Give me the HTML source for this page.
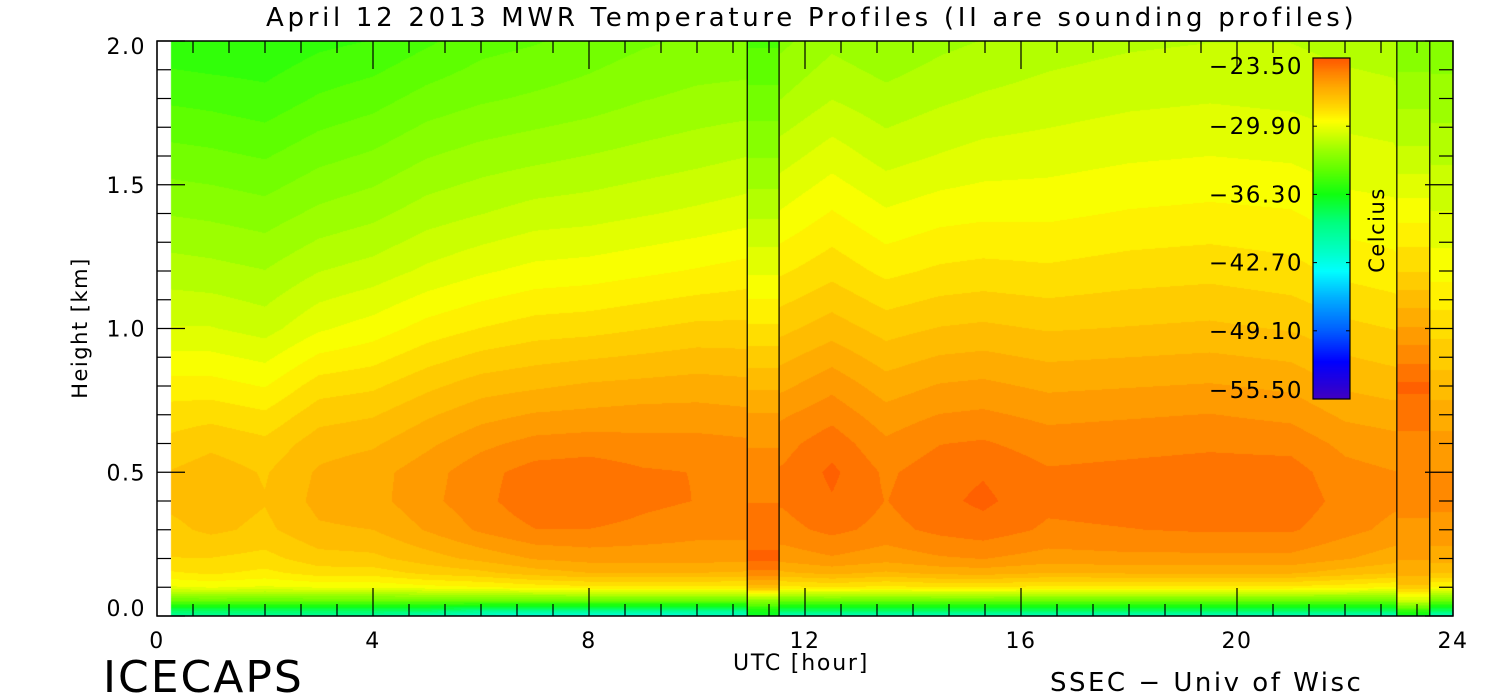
<!DOCTYPE html>
<html><head><meta charset="utf-8"><style>
html,body{margin:0;padding:0;background:#fff;}
#wrap{position:relative;width:1500px;height:700px;overflow:hidden;font-family:"DejaVu Sans","Liberation Sans",sans-serif;}
.t{position:absolute;white-space:nowrap;color:#000;font-weight:normal;}
canvas{position:absolute;left:0;top:0;}
svg{position:absolute;left:0;top:0;}
</style></head><body>
<div id="wrap">
<canvas id="cv" width="1500" height="700"></canvas>
<svg id="sv" width="1500" height="700"></svg>
<div class="t" style="left:266px;top:3px;font-size:26px;letter-spacing:3.7px;">April 12 2013 MWR Temperature Profiles (II are sounding profiles)</div>
<div class="t" style="top:328px;font-size:21px;letter-spacing:1.5px;transform:translate(-50%,-50%) rotate(-90deg);transform-origin:center;left:80px;">Height [km]</div>
<div class="t" style="left:733px;top:651px;font-size:22px;letter-spacing:1.8px;">UTC [hour]</div>
<div class="t" style="left:103px;top:652px;font-size:44px;letter-spacing:2px;">ICECAPS</div>
<div class="t" style="left:1050px;top:668px;font-size:26px;letter-spacing:2.5px;">SSEC − Univ of Wisc</div>
<div class="t" style="left:1377px;top:230px;font-size:21px;letter-spacing:1.5px;transform:translate(-50%,-50%) rotate(-90deg);">Celcius</div>
</div>
<script>
// ---- data ----
const heights = [0,0.02,0.05,0.1,0.15,0.2,0.3,0.4,0.5,0.6,0.7,0.8,1.0,1.2,1.4,1.6,1.8,2.0];
const mwrTimes = [0.26,1,2,3,4,5,6,7,8,9,10,10.9,11.6,12.5,13.5,14.5,15.3,16.5,18,19.5,21,22,22.9,23.6,24];
const mwrTemps = [
[-40,-38,-34,-30,-28.7,-28,-27.5,-27.2,-27.3,-27.8,-28.3,-29,-30.5,-31.5,-32.5,-33.5,-34.5,-35.5],
[-40,-38,-34,-29.8,-28.5,-28,-27.2,-27,-27,-27.5,-28.2,-29,-30.5,-31.6,-32.6,-33.6,-34.6,-35.6],
[-40,-38,-34,-30,-28.8,-28.2,-27.5,-27.3,-27.4,-27.8,-28.5,-29.3,-30.8,-31.8,-32.8,-33.8,-34.8,-35.6],
[-40,-38,-34,-29.8,-28.3,-27.6,-26.8,-26.5,-26.6,-27,-27.6,-28.3,-30,-31.2,-32.3,-33.3,-34.3,-35.2],
[-40,-38,-34,-29.8,-28.3,-27.5,-26.7,-26.3,-26.3,-26.8,-27.4,-28.1,-29.6,-30.9,-32,-33,-34,-35],
[-41,-38,-34,-29.5,-27.8,-27,-26,-25.6,-25.7,-26.2,-26.8,-27.5,-29,-30.4,-31.5,-32.5,-33.5,-34.5],
[-42,-39,-34,-29.3,-27.5,-26.5,-25.3,-25,-25,-25.6,-26.3,-27,-28.6,-30,-31.2,-32.2,-33.2,-34],
[-43,-39,-34,-29,-27,-26,-24.8,-24.3,-24.5,-25.2,-26,-26.8,-28.3,-29.7,-30.9,-32,-33,-33.8],
[-43,-39,-34,-28.8,-26.7,-25.8,-24.8,-24.2,-24.4,-25.1,-25.9,-26.6,-28.2,-29.6,-30.8,-31.8,-32.8,-33.5],
[-43,-39,-34,-28.8,-26.7,-25.8,-25,-24.6,-24.7,-25.2,-25.8,-26.5,-28,-29.4,-30.6,-31.6,-32.5,-33.2],
[-42,-39,-34,-28.8,-26.7,-25.8,-25.2,-24.8,-24.8,-25.2,-25.8,-26.4,-27.8,-29.2,-30.4,-31.4,-32.3,-33],
[-42,-39,-34,-28.8,-26.8,-25.8,-25.2,-24.8,-24.8,-25.3,-25.9,-26.5,-27.8,-29,-30.2,-31.2,-32.2,-33],
[-41,-38,-34,-28.8,-26.8,-25.8,-25,-24.7,-24.7,-25,-25.5,-26.2,-27.5,-28.7,-29.8,-30.8,-31.8,-32.6],
[-41,-38,-34,-28.6,-26.5,-25.5,-24.6,-24.2,-24,-24.4,-25,-25.6,-27,-28.2,-29.2,-30.2,-31.2,-32],
[-41,-38,-34,-28.8,-26.8,-25.8,-25,-24.8,-24.9,-25.3,-25.8,-26.4,-27.6,-28.8,-29.8,-30.8,-31.6,-32.4],
[-41,-38,-34,-28.6,-26.5,-25.5,-24.6,-24.3,-24.4,-24.8,-25.4,-26,-27.3,-28.5,-29.5,-30.5,-31.3,-32],
[-41,-38,-34,-28.6,-26.4,-25.4,-24.4,-24,-24.2,-24.7,-25.3,-25.9,-27.2,-28.4,-29.4,-30.3,-31.1,-31.8],
[-41,-38,-34,-28.8,-26.7,-25.7,-24.9,-24.6,-24.7,-25.1,-25.6,-26.2,-27.4,-28.5,-29.4,-30.2,-30.9,-31.5],
[-41,-38,-34,-28.8,-26.6,-25.6,-24.8,-24.5,-24.6,-25,-25.5,-26.1,-27.3,-28.3,-29.2,-30,-30.7,-31.3],
[-41,-38,-34,-28.8,-26.6,-25.6,-24.7,-24.4,-24.5,-24.9,-25.4,-26,-27.2,-28.2,-29.1,-29.9,-30.6,-31.2],
[-41,-38,-34,-28.8,-26.6,-25.6,-24.7,-24.4,-24.5,-25,-25.6,-26.2,-27.4,-28.4,-29.2,-30,-30.7,-31.2],
[-41,-38,-34,-29,-27,-26,-25.2,-25,-25.2,-25.6,-26.2,-26.8,-27.8,-28.8,-29.6,-30.3,-30.9,-31.4],
[-41,-38,-34,-29.3,-27.3,-26.4,-25.6,-25.3,-25.4,-25.8,-26.4,-27,-28,-29,-29.7,-30.4,-31,-31.5],
[-41,-38,-34,-29.3,-27.3,-26.4,-25.6,-25.3,-25.4,-25.8,-26.4,-27,-28.2,-29.5,-30.5,-31.3,-32.2,-32.8],
[-41,-38,-34,-29.3,-27.3,-26.4,-25.6,-25.3,-25.4,-25.8,-26.4,-27,-28.2,-29.5,-30.5,-31.3,-32.2,-32.8]
];
const soundingStarts = [10.93, 22.96];
const soundingEnds = [11.52, 23.57];
const soundingTemps = [
[-37,-36,-33,-27,-25,-24,-24.5,-24.8,-25,-25.5,-26,-26.8,-28.5,-30,-31.3,-32.5,-33.5,-34.5],
[-37,-35,-31,-27.5,-26.5,-26,-25.5,-25.3,-25.2,-25,-24.5,-24,-26,-28,-29.5,-31,-32,-33]
];
const cbTicks = [-23.5,-29.9,-36.3,-42.7,-49.1,-55.5];
const cbMin = -55.5, cbMax = -23.5;
const xTickLabels = [0,4,8,12,16,20,24];
const yTickLabels = [0.0,0.5,1.0,1.5,2.0];

// ---- axes ----
const X0=157, X1=1453, Y0=616, Y1=41;
const xs = t => X0 + t*(X1-X0)/24;
const ys = h => Y0 - h*(Y0-Y1)/2;
const cbX0=1313, cbX1=1350, cbY0=399, cbY1=58;
const cbY = v => cbY0 - (v-cbMin)/(cbMax-cbMin)*(cbY0-cbY1);

const stops = [[-55.5,[64,0,192]],[-52,[0,0,255]],[-49,[0,96,255]],[-46,[0,176,255]],[-43.5,[0,255,255]],[-42,[0,255,208]],[-39,[0,255,128]],[-36.3,[16,255,16]],[-34,[96,255,0]],[-32,[160,255,0]],[-30.5,[216,255,0]],[-29.4,[255,255,0]],[-28.6,[255,230,0]],[-27.8,[255,208,0]],[-27,[255,187,0]],[-26.2,[255,168,0]],[-25.5,[255,148,0]],[-24.8,[255,128,0]],[-24.2,[255,106,0]],[-23.5,[255,88,0]]];
function color(v){
  if(v<=stops[0][0]) return stops[0][1];
  for(let i=1;i<stops.length;i++){ if(v<=stops[i][0]){const a=stops[i-1],b=stops[i];const f=(v-a[0])/(b[0]-a[0]);return a[1].map((c,k)=>Math.round(c+(b[1][k]-c)*f));}}
  return stops[stops.length-1][1];
}
function interpProfile(p,h){
  for(let i=1;i<heights.length;i++){ if(h<=heights[i]){const f=(h-heights[i-1])/(heights[i]-heights[i-1]);return p[i-1]+(p[i]-p[i-1])*f;}}
  return p[p.length-1];
}
function valueAt(t,h){
  for(let s=0;s<soundingStarts.length;s++) if(t>=soundingStarts[s]&&t<soundingEnds[s]) return interpProfile(soundingTemps[s],h);
  if(t<mwrTimes[0]) return null;
  for(let i=1;i<mwrTimes.length;i++){ if(t<=mwrTimes[i]){const f=(t-mwrTimes[i-1])/(mwrTimes[i]-mwrTimes[i-1]);const a=interpProfile(mwrTemps[i-1],h),b=interpProfile(mwrTemps[i],h);return a+(b-a)*f;}}
  return interpProfile(mwrTemps[mwrTimes.length-1],h);
}
const cv=document.getElementById('cv'),ctx=cv.getContext('2d');
const img=ctx.createImageData(1500,700);
const step=0.64;
for(let py=Y1;py<Y0;py++){
  const h=(Y0-py-0.5)/(Y0-Y1)*2;
  for(let px=X0;px<X1;px++){
    const t=(px+0.5-X0)/(X1-X0)*24;
    const v=valueAt(t,h); if(v===null) continue;
    const q=cbMin+Math.floor((v-cbMin)/step)*step+step/2;
    const c=color(q); const o=(py*1500+px)*4;
    img.data[o]=c[0];img.data[o+1]=c[1];img.data[o+2]=c[2];img.data[o+3]=255;
  }
}
for(let py=cbY1;py<cbY0;py++){
  const v=cbMin+(cbY0-py-0.5)/(cbY0-cbY1)*(cbMax-cbMin); const c=color(v);
  for(let px=cbX0;px<cbX1;px++){const o=(py*1500+px)*4;img.data[o]=c[0];img.data[o+1]=c[1];img.data[o+2]=c[2];img.data[o+3]=255;}
}
ctx.putImageData(img,0,0);

const NS='http://www.w3.org/2000/svg', sv=document.getElementById('sv');
function el(tag,attrs){const e=document.createElementNS(NS,tag);for(const k in attrs)e.setAttribute(k,attrs[k]);sv.appendChild(e);return e;}
const frame=el('rect',{x:X0,y:Y1,width:X1-X0,height:Y0-Y1,fill:'none',stroke:'#000','stroke-width':1.5});


for(let s=0;s<soundingStarts.length;s++){
  [soundingStarts[s],soundingEnds[s]].forEach(t=>{
    const l=el('line',{x1:xs(t),x2:xs(t),y1:Y1,y2:Y0,stroke:'#000','stroke-width':1.2});
    
    
  });
}
for(let k=0;k<=36;k++){
  const t=k*2/3, major=(k%6===0), L=major?28:12, x=xs(t);
  const a=el('line',{x1:x,x2:x,y1:Y0,y2:Y0-L,stroke:'#000','stroke-width':1.2});
  
  
  const b=el('line',{x1:x,x2:x,y1:Y1,y2:Y1+L,stroke:'#000','stroke-width':1.2});
  
  
}
for(let k=0;k<=20;k++){
  const h=k*0.1, major=(k%5===0), L=major?28:14, y=ys(h);
  const a=el('line',{x1:X0,x2:X0+L,y1:y,y2:y,stroke:'#000','stroke-width':1.2});
  
  
  const b=el('line',{x1:X1,x2:X1-L,y1:y,y2:y,stroke:'#000','stroke-width':1.2});
  
  
}
xTickLabels.forEach(v=>{
  const tx=el('text',{x:xs(v),y:648,'font-size':22,'text-anchor':'middle','font-family':'DejaVu Sans, Liberation Sans, sans-serif','letter-spacing':1.5});
  tx.textContent=v;
  
  
});
yTickLabels.forEach(v=>{
  const tx=el('text',{x:146,y:ys(v)+(v===0?0:v===2?13:8),'font-size':22,'text-anchor':'end','font-family':'DejaVu Sans, Liberation Sans, sans-serif','letter-spacing':1.5});
  tx.textContent=v.toFixed(1);
  
  
});
const cbr=el('rect',{x:cbX0,y:cbY1,width:cbX1-cbX0,height:cbY0-cbY1,fill:'none',stroke:'#000','stroke-width':1.2});


cbTicks.forEach((v,i)=>{
  const y=cbY(v);
  if(i>0&&i<cbTicks.length-1){
    const a=el('line',{x1:cbX0,x2:cbX0+4,y1:y,y2:y,stroke:'#000'});
    
    
    const b=el('line',{x1:cbX1,x2:cbX1-4,y1:y,y2:y,stroke:'#000'});
    
    
  }
  const ly = i===0? y+16 : (i===cbTicks.length-1? y-1 : y+8);
  const tx=el('text',{x:1303,y:ly,'font-size':23,'text-anchor':'end','font-family':'DejaVu Sans, Liberation Sans, sans-serif','letter-spacing':1.5});
  tx.textContent='\u2212'+Math.abs(v).toFixed(2);
  
  
});
</script>
</body></html>
